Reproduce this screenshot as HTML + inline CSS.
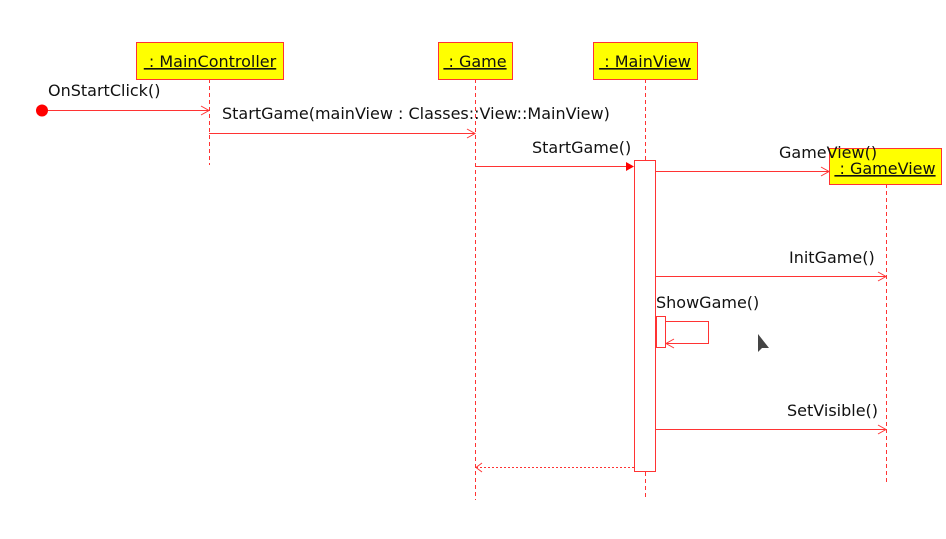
<!DOCTYPE html>
<html><head><meta charset="utf-8"><style>
html,body{margin:0;padding:0;background:#fff;}
svg{display:block;}
text{font-family:"DejaVu Sans","Liberation Sans",sans-serif;font-size:16px;fill:#111;}
</style></head><body>
<svg width="946" height="539" viewBox="0 0 946 539" xmlns="http://www.w3.org/2000/svg">
<g fill="none" stroke="#f33" stroke-width="1">
  <line x1="209.5" y1="79" x2="209.5" y2="165" stroke-dasharray="4,3"/>
  <line x1="475.5" y1="79" x2="475.5" y2="500" stroke-dasharray="4,3"/>
  <line x1="645.5" y1="79" x2="645.5" y2="160" stroke-dasharray="4,3"/>
  <line x1="645.5" y1="472" x2="645.5" y2="500" stroke-dasharray="4,3"/>
  <line x1="886.5" y1="184" x2="886.5" y2="482" stroke-dasharray="4,3"/>
</g>
<g stroke="#f33" fill="#ff0">
  <rect x="136.5" y="42.5" width="147" height="37"/>
  <rect x="438.5" y="42.5" width="74" height="37"/>
  <rect x="593.5" y="42.5" width="104" height="37"/>
  <rect x="829.5" y="148.5" width="112" height="36"/>
</g>
<g>
  <text x="210" y="67" text-anchor="middle" text-decoration="underline" font-size="17">&#160;: MainController</text>
  <text x="475" y="67" text-anchor="middle" text-decoration="underline" font-size="17">&#160;: Game</text>
  <text x="645" y="67" text-anchor="middle" text-decoration="underline" font-size="17">&#160;: MainView</text>
  <text x="885" y="174" text-anchor="middle" text-decoration="underline" font-size="17">&#160;: GameView</text>
</g>
<rect x="634.5" y="160.5" width="21" height="311" fill="#fff" stroke="#f33"/>
<rect x="656.5" y="316.5" width="9" height="31" fill="#fff" stroke="#f33"/>
<g fill="none" stroke="#f33">
  <line x1="42" y1="110.5" x2="209" y2="110.5"/>
  <polyline points="201,106 209,110.5 201,115"/>
  <line x1="209" y1="133.5" x2="475" y2="133.5"/>
  <polyline points="467,129 475,133.5 467,138"/>
  <line x1="475" y1="166.5" x2="628" y2="166.5"/>
  <line x1="656" y1="171.5" x2="829" y2="171.5"/>
  <polyline points="821,167 829,171.5 821,176"/>
  <line x1="656" y1="276.5" x2="886" y2="276.5"/>
  <polyline points="878,272 886,276.5 878,281"/>
  <polyline points="666,321.5 708.5,321.5 708.5,343.5 666,343.5"/>
  <polyline points="674,339 666,343.5 674,348"/>
  <line x1="656" y1="429.5" x2="886" y2="429.5"/>
  <polyline points="878,425 886,429.5 878,434"/>
  <line x1="634" y1="467.5" x2="476" y2="467.5" stroke-dasharray="2,2"/>
  <polyline points="482,463 476,467.5 482,472"/>
</g>
<circle cx="42" cy="110.5" r="6" fill="#f00"/>
<polygon points="626,162 634,166.5 626,171" fill="#f00"/>
<text x="48" y="96">OnStartClick()</text>
<text x="222" y="119">StartGame(mainView : Classes::View::MainView)</text>
<text x="532" y="153">StartGame()</text>
<text x="779" y="158">GameView()</text>
<text x="789" y="263">InitGame()</text>
<text x="656" y="308">ShowGame()</text>
<text x="787" y="416">SetVisible()</text>
<polygon points="758,334 758,352 762,348 769,348" fill="#444"/>
</svg>
</body></html>
